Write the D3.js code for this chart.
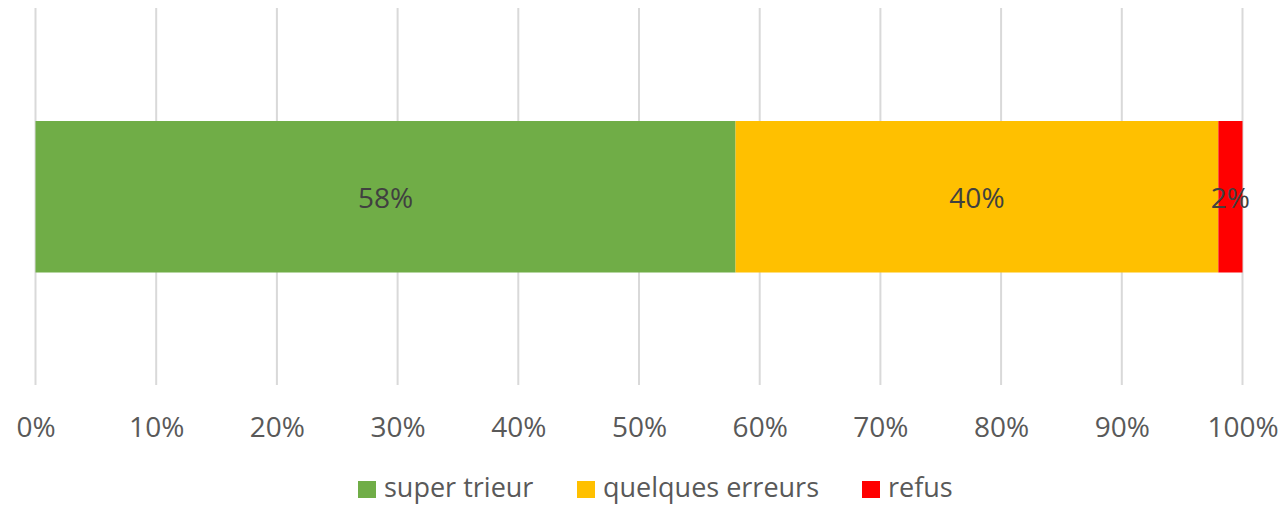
<!DOCTYPE html>
<html>
<head>
<meta charset="utf-8">
<script src="https://cdn.jsdelivr.net/npm/d3@7"></script>
<style>
  body { margin: 0; background: #fff; }
  svg { display: block; font-family: "Open Sans", sans-serif; }
</style>
</head>
<body>
<svg width="1281" height="506"></svg>
<script>
let width = 1281, height = 506;

// data
let categories = ["super trieur", "quelques erreurs", "refus"];
let values = [58, 40, 2];
let colors = ["#70ad47", "#ffc000", "#ff0000"];
let ticks = [0, 10, 20, 30, 40, 50, 60, 70, 80, 90, 100];

let svg = d3.select("svg");

let x = d3.scaleLinear().domain([0, 100]).range([35.5, 1242.5]);

// gridlines
svg.append("g")
    .selectAll("line")
    .data(ticks)
    .enter()
    .append("line")
    .attr("x1", d => x(d))
    .attr("x2", d => x(d))
    .attr("y1", 8)
    .attr("y2", 385)
    .attr("stroke", "#d9d9d9")
    .attr("stroke-width", 2);

// stacked segments
let stacked = [];
let acc = 0;
values.forEach((v, i) => {
    stacked.push({ name: categories[i], start: acc, end: acc + v, value: v, color: colors[i] });
    acc += v;
});

svg.append("g")
    .selectAll("rect")
    .data(stacked)
    .enter()
    .append("rect")
    .attr("x", d => x(d.start))
    .attr("width", d => x(d.end) - x(d.start))
    .attr("y", 121)
    .attr("height", 151.5)
    .attr("fill", d => d.color);

svg.append("g")
    .selectAll("text")
    .data(stacked)
    .enter()
    .append("text")
    .attr("x", d => (x(d.start) + x(d.end)) / 2)
    .attr("y", 198)
    .attr("dy", "0.35em")
    .attr("text-anchor", "middle")
    .attr("font-size", 28)
    .attr("fill", "#404040")
    .text(d => d.value + "%");

// axis
let axis = svg.append("g")
    .attr("transform", "translate(0,385)")
    .call(d3.axisBottom(x).tickValues(ticks).tickSize(0).tickPadding(0).tickFormat(d => d + "%"));
axis.select(".domain").remove();
axis.selectAll("text")
    .attr("y", 42)
    .attr("dy", "0.35em")
    .attr("font-size", 28)
    .attr("font-family", "Open Sans, sans-serif")
    .attr("fill", "#595959");

// legend
let legendX = [358, 577, 862];
let legend = svg.append("g")
    .selectAll("g")
    .data(stacked)
    .enter()
    .append("g")
    .attr("transform", (d, i) => `translate(${legendX[i]},481)`);

legend.append("rect")
    .attr("width", 18)
    .attr("height", 17)
    .attr("fill", d => d.color);

legend.append("text")
    .attr("x", 26)
    .attr("y", 7)
    .attr("dy", "0.35em")
    .attr("font-size", 27)
    .attr("fill", "#595959")
    .text(d => d.name);
</script>
</body>
</html>
